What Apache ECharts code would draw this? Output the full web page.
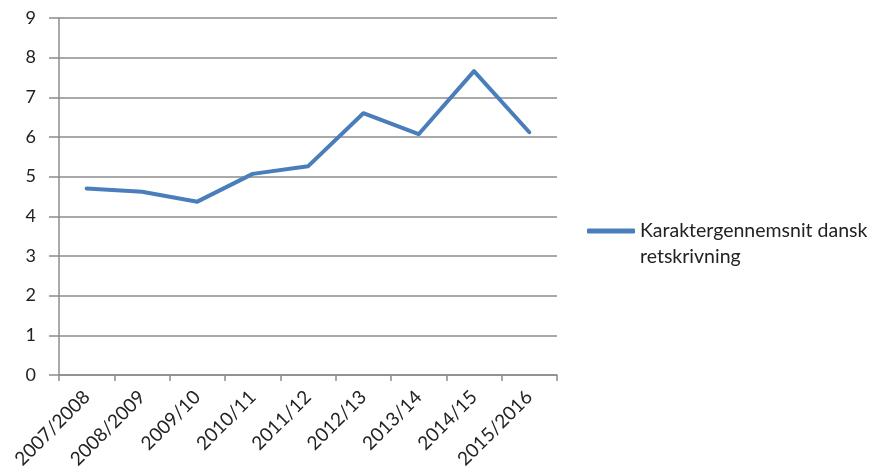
<!DOCTYPE html>
<html>
<head>
<meta charset="utf-8">
<script src="https://cdn.jsdelivr.net/npm/echarts@6/dist/echarts.min.js"></script>
<style>html,body{margin:0;padding:0;background:#fff}#c{width:883px;height:476px}</style>
</head>
<body>
<div id="c"></div>
<script>
const categories = ['2007/2008','2008/2009','2009/10','2010/11','2011/12','2012/13','2013/14','2014/15','2015/2016'];
const seriesName = 'Karaktergennemsnit dansk retskrivning';
const legendLines = ['Karaktergennemsnit dansk', 'retskrivning'];
const values = [4.70, 4.62, 4.37, 5.07, 5.26, 6.60, 6.07, 7.66, 6.12];
const yTicks = {min: 0, max: 9, interval: 1};

const chart = echarts.init(document.getElementById('c'));
const font = 'Lato, "Open Sans", sans-serif';
const axisGray = '#8c8c8c';
chart.setOption({
  animation: false,
  backgroundColor: '#fff',
  grid: {left: 59, right: 326, top: 18, bottom: 101, containLabel: false},
  legend: {
    left: 582, top: 187,
    orient: 'vertical',
    itemWidth: 48, itemHeight: 5,
    icon: 'roundRect',
    data: [seriesName],
    formatter: () => '\n' + legendLines.join('\n'),
    textStyle: {fontFamily: font, fontSize: 19.5, color: '#222', lineHeight: 26}
  },
  xAxis: {
    type: 'category',
    data: categories,
    boundaryGap: true,
    axisLine: {lineStyle: {color: axisGray, width: 1.5}},
    axisTick: {show: true, alignWithLabel: false, length: 6, lineStyle: {color: axisGray, width: 1.5}},
    axisLabel: {rotate: 45, margin: 19, fontFamily: font, fontSize: 19, color: '#222', interval: 0}
  },
  yAxis: {
    type: 'value',
    min: yTicks.min, max: yTicks.max, interval: yTicks.interval,
    axisLine: {show: true, lineStyle: {color: axisGray, width: 1.5}},
    axisTick: {show: true, length: 10, lineStyle: {color: axisGray, width: 1.5}},
    splitLine: {show: true, lineStyle: {color: axisGray, width: 1.5}},
    axisLabel: {margin: 23, fontFamily: font, fontSize: 18, color: '#222'}
  },
  series: [{
    name: seriesName,
    type: 'line',
    data: values,
    symbol: 'none',
    smooth: false,
    lineStyle: {color: '#4a7ebb', width: 4, cap: 'round', join: 'round'},
    itemStyle: {color: '#4a7ebb'}
  }]
});
</script>
</body>
</html>
